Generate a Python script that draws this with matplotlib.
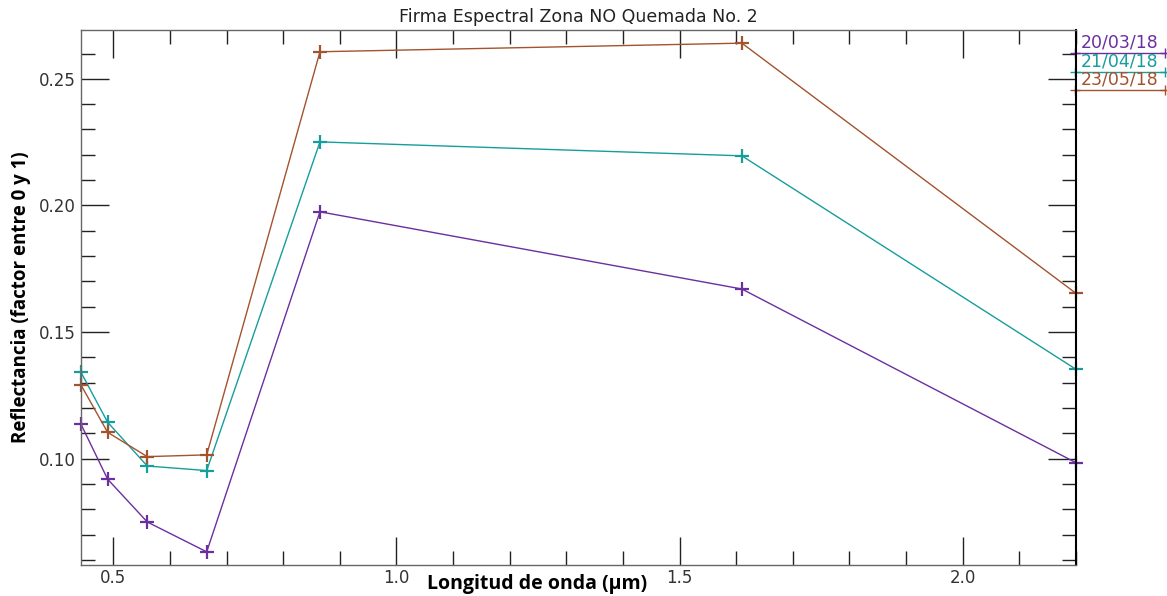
import matplotlib
matplotlib.use('Agg')
import matplotlib.pyplot as plt
from matplotlib.ticker import MultipleLocator

# Longitudes de onda (um) de las bandas
wavelengths = [0.443, 0.49, 0.56, 0.665, 0.865, 1.61, 2.2]

# Reflectancia por fecha
refl_200318 = [0.1136, 0.0919, 0.0750, 0.0632, 0.1975, 0.1670, 0.0984]
refl_210418 = [0.1341, 0.1144, 0.0971, 0.0953, 0.2251, 0.2196, 0.1353]
refl_230518 = [0.1291, 0.1104, 0.1008, 0.1015, 0.2607, 0.2641, 0.1653]

dates = ['20/03/18', '21/04/18', '23/05/18']
colors = ['#6b2fa0', '#169e9c', '#a3532e']

fig = plt.figure(figsize=(11.67, 5.96), dpi=100)
ax = fig.add_axes([0.0694, 0.052, 0.8526, 0.8977])

series = [refl_200318, refl_210418, refl_230518]
for vals, col in zip(series, colors):
    ax.plot(wavelengths, vals, color=col, lw=1.0, marker='+',
            markersize=10, markeredgewidth=1.6, clip_on=False)

ax.set_xlim(0.443, 2.2)
ax.set_ylim(0.058, 0.2693)
ax.xaxis.set_major_locator(MultipleLocator(0.5))
ax.xaxis.set_minor_locator(MultipleLocator(0.1))
ax.yaxis.set_major_locator(MultipleLocator(0.05))
ax.yaxis.set_minor_locator(MultipleLocator(0.01))
ax.xaxis.set_major_formatter(plt.FormatStrFormatter('%.1f'))
ax.yaxis.set_major_formatter(plt.FormatStrFormatter('%.2f'))
ax.tick_params(which='both', direction='in', top=True, right=True,
               labelsize=12, colors='#222222', labelcolor='#333333')
ax.tick_params(which='major', length=20, width=1)
ax.tick_params(which='minor', length=10, width=1)
ax.tick_params(axis='x', pad=3)
for s in ax.spines.values():
    s.set_linewidth(1.0)
    s.set_color('#666666')
ax.spines['right'].set_color('black')
ax.spines['right'].set_linewidth(1.5)

ax.set_title('Firma Espectral Zona NO Quemada No. 2', fontsize=12.5,
             color='#222222', pad=6)
ax.set_xlabel('Longitud de onda (µm)', fontsize=14, fontweight='bold',
              family='Open Sans', va='center')
ax.xaxis.set_label_coords(0.458, -0.036)
ax.set_ylabel('Reflectancia (factor entre 0 y 1)', fontsize=13.5,
              fontweight='bold', family='Open Sans', labelpad=6)

# leyenda a la derecha del eje
for i, (lab, col) in enumerate(zip(dates, colors)):
    yl = 0.9565 - i * 0.0345
    ax.plot([0.999, 1.0895], [yl, yl], color=col, lw=1.0, marker='+',
            markersize=7, transform=ax.transAxes, clip_on=False)
    ax.text(1.044, yl + 0.003, lab, color=col, fontsize=12.5,
            ha='center', va='bottom', transform=ax.transAxes)

fig.savefig('out.png', dpi=100)
